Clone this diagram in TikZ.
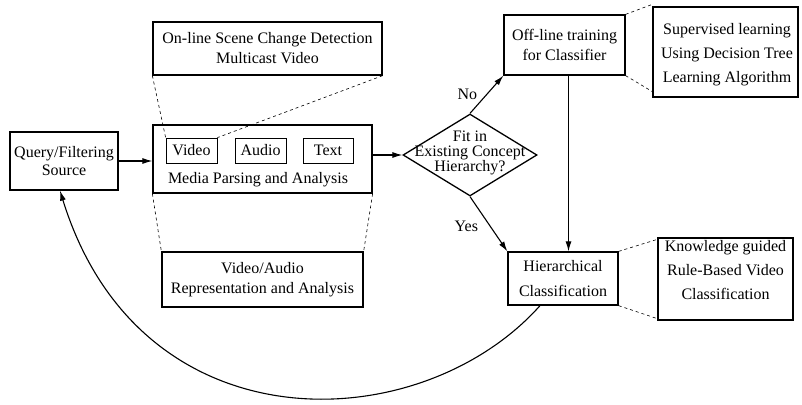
\documentclass[tikz,border=0pt]{standalone}
\usepackage{fontspec}
\setmainfont{Liberation Serif}
\usetikzlibrary{arrows.meta,shapes.geometric}
\begin{document}
\begin{tikzpicture}[x=1pt,y=-1pt,
  box/.style={draw,line width=1.3pt,inner sep=0pt,align=center},
  subbox/.style={draw,line width=0.7pt,inner sep=0pt},
  txt/.style={align=center,inner sep=0pt},
  link/.style={line width=0.6pt,dash pattern=on 3pt off 3pt},
  flow/.style={line width=1.1pt,-{Latex[length=10pt,width=6pt]}},
  font=\fontsize{16}{20}\selectfont
]
\useasboundingbox (0,0) rectangle (802,404);

% source box
\node[box,minimum width=108,minimum height=58,font=\fontsize{16}{18}\selectfont]
  (query) at (64,161) {Query/Filtering\\Source};

% media parsing block with its three streams
\node[box,minimum width=219,minimum height=68] (media) at (262.5,159) {};
\node[subbox,minimum width=51,minimum height=25] (video) at (191.5,150.5) {Video};
\node[subbox,minimum width=51,minimum height=25] (audio) at (260.5,150.5) {Audio};
\node[subbox,minimum width=50,minimum height=25] (textstream) at (328,150.5) {Text};
\node[txt] (medialbl) at (258,180) {Media Parsing and Analysis};

% detail boxes above and below
\node[box,minimum width=229,minimum height=53] (online) at (267.5,48.5)
  {On-line Scene Change Detection\\Multicast Video};
\node[box,minimum width=201,minimum height=55] (rep) at (262.5,279.5)
  {Video/Audio\\Representation and Analysis};

% decision
\node[draw,diamond,line width=1.3pt,minimum width=134,minimum height=82,inner sep=0pt]
  (fit) at (470,155) {};
\node[txt,font=\fontsize{16}{15}\selectfont] (fitlbl) at (470,153)
  {Fit in\\Existing Concept\\Hierarchy?};

% training and classification
\node[box,minimum width=121,minimum height=60] (offline) at (564.5,45)
  {Off-line training\\for Classifier};
\node[box,minimum width=145,minimum height=90] (sup) at (725.5,52) {};
\node[txt,font=\fontsize{16}{24}\selectfont] (suplbl) at (727,55)
  {Supervised learning\\Using Decision Tree\\Learning Algorithm};
\node[box,minimum width=110,minimum height=53,font=\fontsize{16}{25}\selectfont]
  (hier) at (563,278.5) {Hierarchical\\Classification};
\node[box,minimum width=135,minimum height=82] (know) at (725.5,279) {};
\node[txt,font=\fontsize{16}{24}\selectfont] (knowlbl) at (725.5,270)
  {Knowledge guided\\Rule-Based Video\\Classification};

% main flow
\draw[flow] (query.east) -- (query.east -| media.west);
\draw[flow] (fit.west -| media.east) -- (fit.west);
\draw[flow] (fit.north) -- node[pos=0.5,left=9pt,txt] (nolbl) {No} (offline.south west);
\draw[flow] (fit.south) -- node[pos=0.55,left=12pt,txt] (yeslbl) {Yes} (hier.north west);
\draw[flow] ([xshift=4pt]offline.south) -- ([xshift=4pt]offline.south |- hier.north);
\draw[flow] ([xshift=-23pt]hier.south) .. controls (420,440) and (140,450) .. ([xshift=-4pt]query.south);

% dashed detail links
\draw[link] (online.south west) -- (video.north west);
\draw[link] (online.south east) -- (video.north east);
\draw[link] (media.south west) -- (rep.north west);
\draw[link] (media.south east) -- (rep.north east);
\draw[link] (offline.north east) -- ([yshift=2pt]sup.north west);
\draw[link] (offline.south east) -- ([yshift=6pt]sup.south west);
\draw[link] (hier.north east) -- ([yshift=-2pt]know.north west);
\draw[link] (hier.south east) -- ([yshift=2pt]know.south west);
\end{tikzpicture}
\end{document}
